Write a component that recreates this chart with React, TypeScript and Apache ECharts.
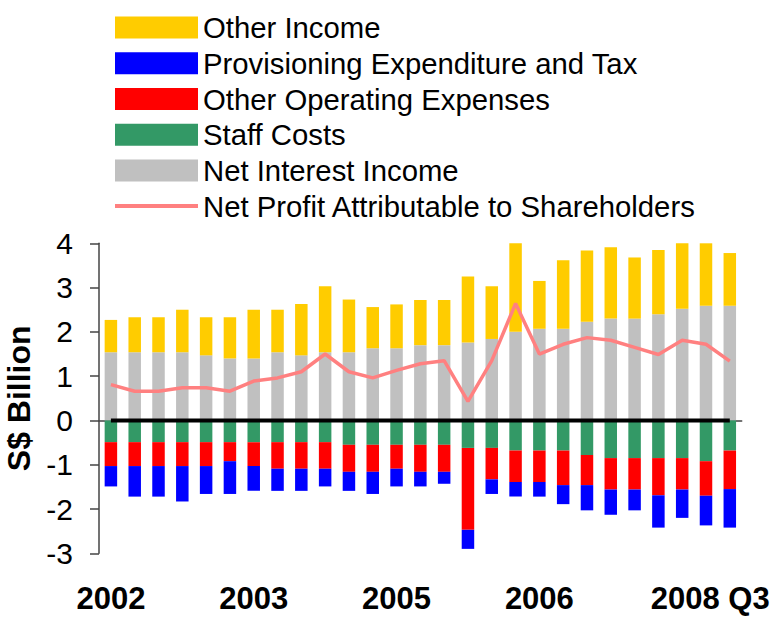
import React, { useEffect, useRef } from "react";
import * as echarts from "echarts";

const tickLabels = ["2002", "2003", "2005", "2006", "2008 Q3"];
const periodsPerTick = 6;
const periodCount = 27;
const categories = Array.from({ length: periodCount }, (_, i) => String(i + 1));

const netInterestIncome = [1.54, 1.54, 1.54, 1.54, 1.47, 1.40, 1.40, 1.54, 1.47, 1.54, 1.54, 1.63, 1.63, 1.70, 1.70, 1.76, 1.84, 2.00, 2.07, 2.07, 2.23, 2.30, 2.30, 2.40, 2.52, 2.59, 2.59];
const otherIncome = [0.73, 0.79, 0.79, 0.96, 0.86, 0.93, 1.10, 0.96, 1.16, 1.49, 1.19, 0.93, 0.99, 1.02, 1.02, 1.49, 1.19, 2.15, 1.08, 1.55, 1.61, 1.61, 1.38, 1.45, 1.49, 1.49, 1.19];
const staffCosts = [-0.49, -0.49, -0.49, -0.49, -0.49, -0.49, -0.49, -0.49, -0.49, -0.49, -0.55, -0.55, -0.55, -0.55, -0.55, -0.62, -0.62, -0.68, -0.68, -0.68, -0.78, -0.85, -0.85, -0.85, -0.85, -0.92, -0.68];
const otherOperatingExpenses = [-0.54, -0.54, -0.54, -0.54, -0.54, -0.43, -0.54, -0.60, -0.60, -0.60, -0.61, -0.61, -0.54, -0.61, -0.61, -1.85, -0.71, -0.71, -0.71, -0.78, -0.68, -0.71, -0.71, -0.84, -0.71, -0.78, -0.87];
const provisioningAndTax = [-0.46, -0.69, -0.69, -0.80, -0.63, -0.74, -0.56, -0.50, -0.50, -0.40, -0.43, -0.50, -0.40, -0.33, -0.27, -0.43, -0.33, -0.33, -0.33, -0.43, -0.57, -0.57, -0.47, -0.73, -0.64, -0.67, -0.87];
const netProfit = [0.81, 0.66, 0.66, 0.74, 0.74, 0.66, 0.89, 0.96, 1.10, 1.50, 1.10, 0.96, 1.13, 1.28, 1.35, 0.43, 1.35, 2.64, 1.50, 1.72, 1.87, 1.81, 1.65, 1.49, 1.81, 1.72, 1.34];
const zeroLine = categories.map(() => 0);

const FONT = "'Liberation Sans', Arial, sans-serif";

export default function App() {
  const ref = useRef<HTMLDivElement>(null);
  useEffect(() => {
    if (!ref.current) return;
    const chart = echarts.init(ref.current, null, { renderer: "svg" });
    const barW = 12.5;
    const bar = (name: string, data: number[], color: string) => ({
      name,
      type: "bar",
      stack: "total",
      data,
      barWidth: barW,
      itemStyle: { color },
      emphasis: { disabled: true },
    });
    chart.setOption({
      animation: false,
      textStyle: { fontFamily: FONT },
      legend: {
        orient: "vertical",
        left: 108,
        top: 8,
        itemWidth: 83,
        itemHeight: 22,
        itemGap: 6.5,
        textStyle: { fontSize: 29.3, lineHeight: 29.2, color: "#000", fontFamily: FONT },
        data: [
          { name: "Other Income", icon: "rect" },
          { name: "Provisioning Expenditure and Tax", icon: "rect" },
          { name: "Other Operating Expenses", icon: "rect" },
          { name: "Staff Costs", icon: "rect" },
          { name: "Net Interest Income", icon: "rect" },
          {
            name: "Net Profit Attributable to Shareholders",
            itemStyle: { opacity: 0 },
            lineStyle: { color: "#FF8080", width: 4, opacity: 1 },
          },
        ],
        selectedMode: false,
      },
      grid: { left: 99, right: 36.3, top: 243.3, bottom: 68.7, containLabel: false, outerBoundsMode: "none" },
      xAxis: {
        type: "category",
        data: categories,
        boundaryGap: true,
        axisLine: { lineStyle: { color: "#444", width: 1.5 } },
        axisTick: { interval: periodsPerTick - 1, length: 10, lineStyle: { color: "#444", width: 1.5 } },
        axisLabel: {
          interval: periodsPerTick - 1,
          margin: 30,
          fontSize: 31,
          fontWeight: "bold",
          fontFamily: FONT,
          color: "#000",
          formatter: (_v: string, idx: number) => {
            const t = tickLabels[idx / periodsPerTick] || "";
            if (idx / periodsPerTick === tickLabels.length - 1) return "{q|" + t + "}";
            return t;
          },
          rich: {
            q: { padding: [0, 0, 0, 56], fontSize: 31, fontWeight: "bold", fontFamily: FONT, color: "#000" },
          },
        },
      },
      yAxis: {
        type: "value",
        min: -3,
        max: 4,
        interval: 1,
        name: "S$ Billion",
        nameLocation: "middle",
        nameRotate: 90,
        nameGap: 63,
        nameTextStyle: { fontSize: 32, fontWeight: "bold", color: "#000", fontFamily: FONT },
        splitLine: { show: false },
        axisLine: { show: true, lineStyle: { color: "#444", width: 1.5 } },
        axisTick: { show: true, length: 9, lineStyle: { color: "#444", width: 1.5 } },
        axisLabel: { fontSize: 30, margin: 26, color: "#000", fontFamily: FONT },
      },
      series: [
        bar("Net Interest Income", netInterestIncome, "#C0C0C0"),
        bar("Staff Costs", staffCosts, "#339966"),
        bar("Other Operating Expenses", otherOperatingExpenses, "#FF0000"),
        bar("Provisioning Expenditure and Tax", provisioningAndTax, "#0000FF"),
        bar("Other Income", otherIncome, "#FFCC00"),
        {
          name: "zero",
          type: "line",
          data: zeroLine,
          symbol: "none",
          lineStyle: { color: "#000", width: 4 },
          itemStyle: { color: "#000" },
          z: 5,
          emphasis: { disabled: true },
        },
        {
          name: "Net Profit Attributable to Shareholders",
          type: "line",
          data: netProfit,
          symbol: "none",
          lineStyle: { color: "#FF8080", width: 3.5 },
          itemStyle: { color: "#FF8080" },
          z: 6,
          emphasis: { disabled: true },
        },
      ],
    });
    return () => chart.dispose();
  }, []);
  return (
    <div
      ref={ref}
      style={{ position: "absolute", left: 0, top: 0, width: 778, height: 622, background: "#fff" }}
    />
  );
}
